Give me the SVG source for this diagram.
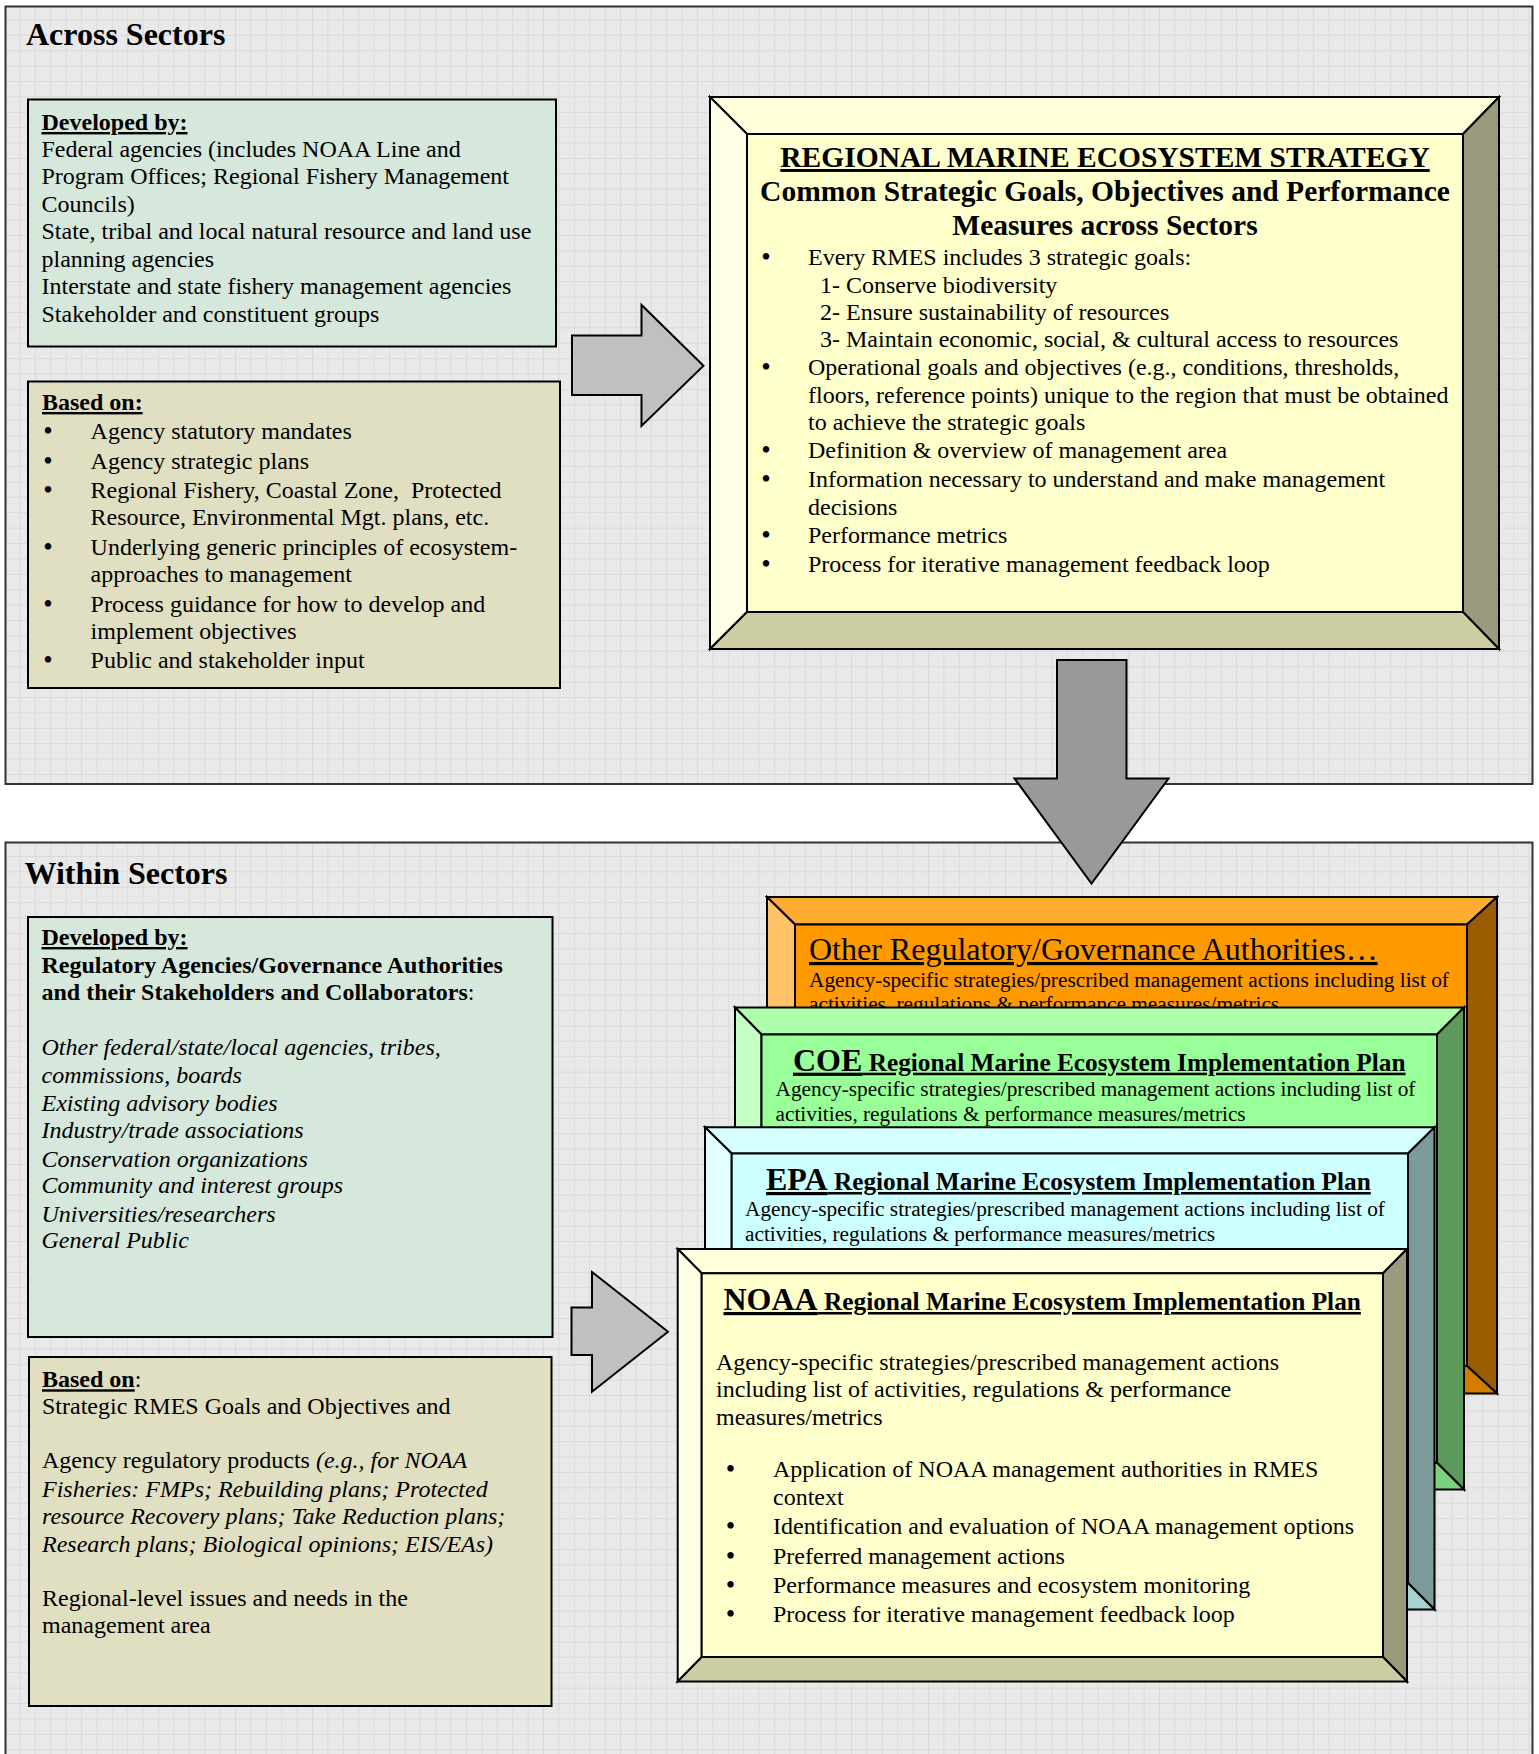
<svg xmlns="http://www.w3.org/2000/svg" width="1539" height="1754" viewBox="0 0 1539 1754">
<defs>
<pattern id="gridA" x="4" y="4" width="15.4" height="15.4" patternUnits="userSpaceOnUse">
<rect width="15.4" height="15.4" fill="#e9e9e9"/>
<path d="M0 0.5H15.4M0.5 0V15.4" stroke="#dadada" stroke-width="1" fill="none"/>
</pattern>
<pattern id="gridB" x="4" y="9" width="15.4" height="15.4" patternUnits="userSpaceOnUse">
<rect width="15.4" height="15.4" fill="#e9e9e9"/>
<path d="M0 0.5H15.4M0.5 0V15.4" stroke="#dadada" stroke-width="1" fill="none"/>
</pattern>
</defs>
<style>
.t{font-family:"Liberation Serif","Times New Roman",serif;font-size:24px;fill:#000}
.b{font-weight:bold}
.i{font-style:italic}
.u{text-decoration:underline}
.h{font-size:32px;font-weight:bold}
.hd{font-size:29.5px;font-weight:bold}
.sm{font-size:21.3px}
.big{font-size:32px}
.mid{font-size:25.3px}
.bul{text-anchor:middle;font-size:27px}
.panel{stroke:#333;stroke-width:2}
.box{stroke:#000;stroke-width:2}
.bv{stroke:#000;stroke-width:2;stroke-linejoin:miter}
.arr{stroke:#000;stroke-width:2;stroke-linejoin:miter}
</style>
<rect width="1539" height="1754" fill="#fff"/>

<g id="panel-across">
<rect class="panel" x="5.5" y="6.5" width="1527" height="777.5" fill="url(#gridA)"/>
<text class="t h" x="26" y="45">Across Sectors</text>
</g>
<g id="panel-within">
<rect class="panel" x="5.5" y="842.5" width="1527" height="930" fill="url(#gridB)"/>
<text class="t h" x="24.5" y="883.6">Within Sectors</text>
</g>

<g id="connectors">
<polygon class="arr" fill="#c0c0c0" points="572,335.5 641.5,335.5 641.5,305 703.5,365.7 641.5,426 641.5,395 572,395"/>
<polygon class="arr" fill="#999999" points="1057,660 1126.5,660 1126.5,778.5 1168.5,778.5 1091.5,883.5 1014.5,778.5 1057,778.5"/>
<polygon class="arr" fill="#c0c0c0" points="571.5,1307.5 592,1307.5 592,1272 668,1331.7 592,1391.7 592,1355 571.5,1355"/>
</g>

<g id="dev-across">
<rect class="box" x="28" y="99.5" width="528" height="247" fill="#d6e7dc"/>
<text class="t b u" x="41.5" y="130">Developed by:</text>
<text class="t" x="41.5" y="156.7">Federal agencies (includes NOAA Line and</text>
<text class="t" x="41.5" y="184.3">Program Offices; Regional Fishery Management</text>
<text class="t" x="41.5" y="211.7">Councils)</text>
<text class="t" x="41.5" y="239.3">State, tribal and local natural resource and land use</text>
<text class="t" x="41.5" y="266.7">planning agencies</text>
<text class="t" x="41.5" y="294.3">Interstate and state fishery management agencies</text>
<text class="t" x="41.5" y="321.7">Stakeholder and constituent groups</text>
</g>

<g id="based-across">
<rect class="box" x="28" y="381.5" width="532" height="306.5" fill="#e0dfc2"/>
<text class="t b u" x="42" y="410">Based on:</text>
<g class="t bul">
<text x="48" y="440">•</text><text x="48" y="470">•</text><text x="48" y="499">•</text><text x="48" y="556">•</text><text x="48" y="613">•</text><text x="48" y="669">•</text>
</g>
<text class="t" x="90.6" y="439">Agency statutory mandates</text>
<text class="t" x="90.6" y="469">Agency strategic plans</text>
<text class="t" x="90.6" y="498" xml:space="preserve">Regional Fishery, Coastal Zone,  Protected</text>
<text class="t" x="90.6" y="525">Resource, Environmental Mgt. plans, etc.</text>
<text class="t" x="90.6" y="555">Underlying generic principles of ecosystem-</text>
<text class="t" x="90.6" y="582">approaches to management</text>
<text class="t" x="90.6" y="612">Process guidance for how to develop and</text>
<text class="t" x="90.6" y="639">implement objectives</text>
<text class="t" x="90.6" y="668">Public and stakeholder input</text>
</g>

<g id="rmes">
<polygon class="bv" fill="#ffffd9" points="710,97 1499,97 1463,134 747,134"/>
<polygon class="bv" fill="#ffffe8" points="710,97 747,134 747,612 710,649"/>
<polygon class="bv" fill="#9a9a7c" points="1499,97 1499,649 1463,612 1463,134"/>
<polygon class="bv" fill="#cdcda4" points="710,649 747,612 1463,612 1499,649"/>
<rect class="bv" x="747" y="134" width="716" height="478" fill="#ffffcc"/>
<text class="t hd u" x="1105" y="167" text-anchor="middle">REGIONAL MARINE ECOSYSTEM STRATEGY</text>
<text class="t hd" x="1105" y="200.7" text-anchor="middle">Common Strategic Goals, Objectives and Performance</text>
<text class="t hd" x="1105" y="235" text-anchor="middle">Measures across Sectors</text>
<g class="t bul">
<text x="766" y="266">•</text><text x="766" y="376">•</text><text x="766" y="459.3">•</text><text x="766" y="488.3">•</text><text x="766" y="543.7">•</text><text x="766" y="572.7">•</text>
</g>
<text class="t" x="808" y="265">Every RMES includes 3 strategic goals:</text>
<text class="t" x="820" y="293.3">1- Conserve biodiversity</text>
<text class="t" x="820" y="320">2- Ensure sustainability of resources</text>
<text class="t" x="820" y="346.7">3- Maintain economic, social, &amp; cultural access to resources</text>
<text class="t" x="808" y="375">Operational goals and objectives (e.g., conditions, thresholds,</text>
<text class="t" x="808" y="402.7">floors, reference points) unique to the region that must be obtained</text>
<text class="t" x="808" y="430">to achieve the strategic goals</text>
<text class="t" x="808" y="458.3">Definition &amp; overview of management area</text>
<text class="t" x="808" y="487.3">Information necessary to understand and make management</text>
<text class="t" x="808" y="515">decisions</text>
<text class="t" x="808" y="542.7">Performance metrics</text>
<text class="t" x="808" y="571.7">Process for iterative management feedback loop</text>
</g>

<g id="dev-within">
<rect class="box" x="28" y="917" width="524.5" height="420" fill="#d6e7dc"/>
<text class="t b u" x="41.5" y="945">Developed by:</text>
<text class="t b" x="41.5" y="973.3">Regulatory Agencies/Governance Authorities</text>
<text class="t" x="41.5" y="1000"><tspan class="b">and their Stakeholders and Collaborators</tspan>:</text>
<text class="t i" x="41.5" y="1055">Other federal/state/local agencies, tribes,</text>
<text class="t i" x="41.5" y="1083.3">commissions, boards</text>
<text class="t i" x="41.5" y="1111">Existing advisory bodies</text>
<text class="t i" x="41.5" y="1138.3">Industry/trade associations</text>
<text class="t i" x="41.5" y="1166.7">Conservation organizations</text>
<text class="t i" x="41.5" y="1193.3">Community and interest groups</text>
<text class="t i" x="41.5" y="1221.7">Universities/researchers</text>
<text class="t i" x="41.5" y="1248.3">General Public</text>
</g>

<g id="based-within">
<rect class="box" x="29" y="1357" width="522.5" height="349" fill="#e0dfc2"/>
<text class="t" x="42" y="1387.3"><tspan class="b u">Based on</tspan>:</text>
<text class="t" x="42" y="1414">Strategic RMES Goals and Objectives and</text>
<text class="t" x="42" y="1468.3">Agency regulatory products <tspan class="i">(e.g., for NOAA</tspan></text>
<text class="t i" x="42" y="1496.7">Fisheries: FMPs; Rebuilding plans; Protected</text>
<text class="t i" x="42" y="1524">resource Recovery plans; Take Reduction plans;</text>
<text class="t i" x="42" y="1551.7">Research plans; Biological opinions; EIS/EAs)</text>
<text class="t" x="42" y="1606">Regional-level issues and needs in the</text>
<text class="t" x="42" y="1633.3">management area</text>
</g>

<g id="plan-other">
<polygon class="bv" fill="#ffac33" points="767,897 1497,897 1467,924.5 795,924.5"/>
<polygon class="bv" fill="#ffc266" points="767,897 795,924.5 795,1366 767,1393.5"/>
<polygon class="bv" fill="#9a5c00" points="1497,897 1497,1393.5 1467,1366 1467,924.5"/>
<polygon class="bv" fill="#d27c00" points="767,1393.5 795,1366 1467,1366 1497,1393.5"/>
<rect class="bv" x="795" y="924.5" width="672" height="441.5" fill="#ff9900"/>
<text class="t big u" x="809" y="960">Other Regulatory/Governance Authorities…</text>
<text class="t sm" x="809" y="986.7">Agency-specific strategies/prescribed management actions including list of</text>
<text class="t sm" x="809" y="1011">activities, regulations &amp; performance measures/metrics</text>
</g>

<g id="plan-coe">
<polygon class="bv" fill="#adffad" points="735,1007.5 1464,1007.5 1437,1034.5 761.5,1034.5"/>
<polygon class="bv" fill="#c4ffc4" points="735,1007.5 761.5,1034.5 761.5,1462.7 735,1489.5"/>
<polygon class="bv" fill="#5c9a5c" points="1464,1007.5 1464,1489.5 1437,1462.7 1437,1034.5"/>
<polygon class="bv" fill="#7bd27b" points="735,1489.5 761.5,1462.7 1437,1462.7 1464,1489.5"/>
<rect class="bv" x="761.5" y="1034.5" width="675.5" height="428.2" fill="#99ff99"/>
<text class="t b u" x="793" y="1070.7"><tspan class="big">COE</tspan><tspan class="mid"> Regional Marine Ecosystem Implementation Plan</tspan></text>
<text class="t sm" x="775.5" y="1096">Agency-specific strategies/prescribed management actions including list of</text>
<text class="t sm" x="775.5" y="1120.7">activities, regulations &amp; performance measures/metrics</text>
</g>

<g id="plan-epa">
<polygon class="bv" fill="#d6ffff" points="705,1127.3 1434.5,1127.3 1408,1153.5 731.7,1153.5"/>
<polygon class="bv" fill="#e3ffff" points="705,1127.3 731.7,1153.5 731.7,1583 705,1609.5"/>
<polygon class="bv" fill="#7b9a9a" points="1434.5,1127.3 1434.5,1609.5 1408,1583 1408,1153.5"/>
<polygon class="bv" fill="#a6d2d2" points="705,1609.5 731.7,1583 1408,1583 1434.5,1609.5"/>
<rect class="bv" x="731.7" y="1153.5" width="676.3" height="429.5" fill="#ccffff"/>
<text class="t b u" x="766" y="1190"><tspan class="big">EPA</tspan><tspan class="mid"> Regional Marine Ecosystem Implementation Plan</tspan></text>
<text class="t sm" x="745" y="1216">Agency-specific strategies/prescribed management actions including list of</text>
<text class="t sm" x="745" y="1241">activities, regulations &amp; performance measures/metrics</text>
</g>

<g id="plan-noaa">
<polygon class="bv" fill="#ffffd9" points="677.7,1249 1407,1249 1383,1273.3 701.7,1273.3"/>
<polygon class="bv" fill="#ffffe8" points="677.7,1249 701.7,1273.3 701.7,1657 677.7,1681.5"/>
<polygon class="bv" fill="#9a9a7c" points="1407,1249 1407,1681.5 1383,1657 1383,1273.3"/>
<polygon class="bv" fill="#cdcda4" points="677.7,1681.5 701.7,1657 1383,1657 1407,1681.5"/>
<rect class="bv" x="701.7" y="1273.3" width="681.3" height="383.7" fill="#ffffcc"/>
<text class="t b u" x="723.5" y="1310"><tspan class="big">NOAA</tspan><tspan class="mid"> Regional Marine Ecosystem Implementation Plan</tspan></text>
<text class="t" x="716" y="1370">Agency-specific strategies/prescribed management actions</text>
<text class="t" x="716" y="1397.3">including list of activities, regulations &amp; performance</text>
<text class="t" x="716" y="1425">measures/metrics</text>
<g class="t bul">
<text x="730.5" y="1478.3">•</text><text x="730.5" y="1535">•</text><text x="730.5" y="1565">•</text><text x="730.5" y="1593.7">•</text><text x="730.5" y="1622.7">•</text>
</g>
<text class="t" x="773" y="1477.3">Application of NOAA management authorities in RMES</text>
<text class="t" x="773" y="1505">context</text>
<text class="t" x="773" y="1534">Identification and evaluation of NOAA management options</text>
<text class="t" x="773" y="1564">Preferred management actions</text>
<text class="t" x="773" y="1592.7">Performance measures and ecosystem monitoring</text>
<text class="t" x="773" y="1621.7">Process for iterative management feedback loop</text>
</g>
</svg>
